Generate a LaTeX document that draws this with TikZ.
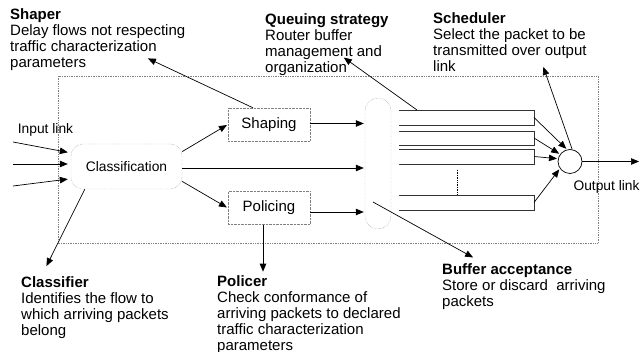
\documentclass[tikz,border=0pt]{standalone}
\usepackage{fontspec}
\setmainfont{Liberation Sans}
\usetikzlibrary{arrows.meta,calc}
\tikzset{
  note/.style={anchor=north west, align=left, inner sep=0pt, font=\fontsize{15}{16}\selectfont},
  blk/.style={draw=gray, densely dotted, minimum width=82pt, minimum height=33pt, inner sep=0pt, font=\fontsize{15}{15}\selectfont},
  lbl/.style={inner sep=0pt, font=\fontsize{13.8}{14}\selectfont},
  arr/.style={-{Triangle[length=8pt,width=6.5pt]}, line width=.7pt, shorten >=1pt},
}
\begin{document}
\begin{tikzpicture}[x=1pt,y=-1pt]
  \useasboundingbox (0,0) rectangle (641,352);
  %%frame
  \draw[gray, densely dotted, line width=.7pt] (58,76) rectangle (598,243);

  %%boxes
  \node[blk, rounded corners=12pt, minimum width=111pt, minimum height=45pt, font=\fontsize{13.8}{14}\selectfont] (cls) at (126.5,166.5) {Classification};
  \node[blk] (shp) at (269,124.5) {Shaping};
  \node[blk] (pol) at (269,208) {Policing};
  \node[blk, rounded corners=13pt, minimum width=26pt, minimum height=131pt] (buf) at (378,163.5) {};
  \node[draw, circle, minimum size=24pt, inner sep=0pt, line width=.7pt] (sch) at (570,161.5) {};

  %%queues
  \foreach \i/\t/\b in {1/110/125, 2/131/145, 3/149/164, 4/195/210} {
    \draw[line width=.8pt, black!80] (399,\t) -- (534,\t) -- (534,\b) -- (399,\b);
    \coordinate (q\i) at (534,{(\t+\b)/2});
  }
  \draw[densely dotted, line width=.7pt] (457,170) -- (457,195);

  %%links
  \node[lbl] (inl) at (45.5,130) {Input link};
  \node[lbl] (outl) at (606.5,186.7) {Output link};
  \foreach \i/\y in {1/142, 2/164, 3/186} \coordinate (in\i) at (13,\y);
  \coordinate (out) at (640,161.5);
  \draw[arr] (in1) -- ($(cls.west)+(-2,-14)$);
  \draw[arr] (in2) -- ($(cls.west)+(-2,-2.5)$);
  \draw[arr] (in3) -- ($(cls.west)+(-2,12.5)$);
  \draw[arr] (sch.east) -- (out);

  %%flow
  \draw[arr] (cls.15) -- (shp.west);
  \draw[arr] (cls.-15) -- (pol.west);
  \draw[arr] ([yshift=-1.5pt]cls.east) -- ([yshift=-1.5pt]cls.east -| buf.west);
  \draw[arr] ([yshift=1pt]shp.east) -- ([yshift=1pt]shp.east -| buf.west);
  \draw[arr] ([yshift=-4pt]pol.east) -- ([yshift=-4pt]pol.east -| buf.west);
  \draw[arr] (q1) -- (sch.104);
  \draw[arr] (q2) -- (sch.144);
  \draw[arr] (q3) -- (sch.167);
  \draw[arr] (q4) -- (sch.215);

  %%notes
  \node[note] (shaper) at (10,8.5) {\textbf{Shaper}\\Delay flows not respecting\\traffic characterization\\parameters};
  \node[note] (queuing) at (265,13) {\textbf{Queuing strategy}\\Router buffer\\management and\\organization};
  \node[note] (scheduler) at (433,12.5) {\textbf{Scheduler}\\Select the packet to be\\transmitted over output\\link};
  \node[note] (classifier) at (21,276) {\textbf{Classifier}\\Identifies the flow to\\which arriving packets\\belong};
  \node[note] (policer) at (217,275) {\textbf{Policer}\\Check conformance of\\arriving packets to declared\\traffic characterization\\parameters};
  \node[note] (acceptance) at (442,263.5) {\textbf{Buffer acceptance}\\Store or discard~ arriving\\packets};

  %%pointers
  \coordinate (shaperTip) at (147,58);
  \coordinate (queuingTip) at (343,57);
  \coordinate (schedTip) at (543,66);
  \coordinate (classTip) at (46,267);
  \coordinate (accTip) at (474,258);
  \coordinate (q1top) at (417,110);
  \coordinate (bufIn) at (373,202);
  \draw[arr] ([xshift=-16pt]shp.north) -- (shaperTip);
  \draw[arr] (q1top) -- (queuingTip);
  \draw[arr] (sch.80) -- (schedTip);
  \draw[arr] ($(cls.south west)+(14,0)$) -- (classTip);
  \draw[arr] ([xshift=-6pt]pol.south) -- ++(0,48);
  \draw[arr] (bufIn) -- (accTip);
\end{tikzpicture}
\end{document}
